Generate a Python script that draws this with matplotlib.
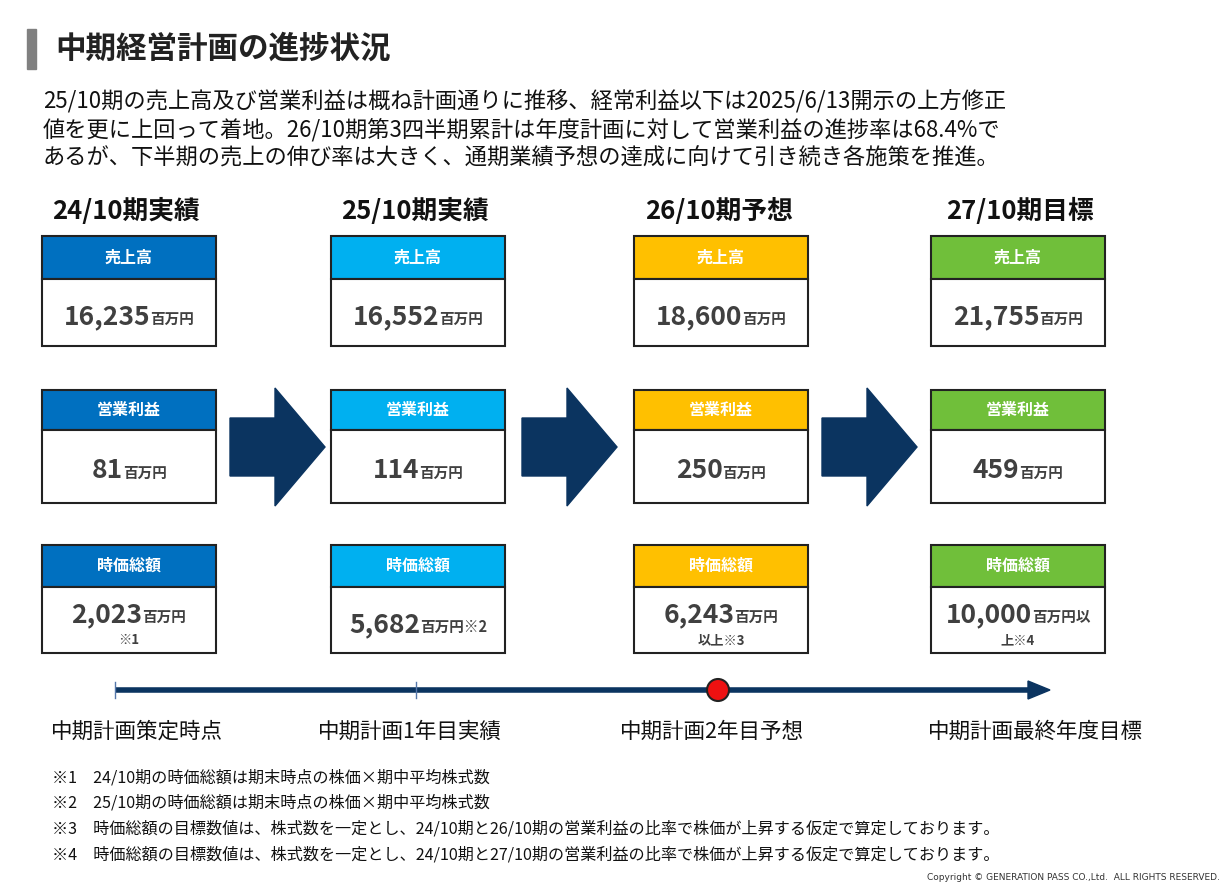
import matplotlib
matplotlib.use("Agg")
import matplotlib.pyplot as plt
from matplotlib.patches import Rectangle, Polygon, Circle

plt.rcParams['font.family'] = ['Noto Sans CJK JP', 'DejaVu Sans']

periods = ["24/10期実績", "25/10期実績", "26/10期予想", "27/10期目標"]
row_titles = ["売上高", "営業利益", "時価総額"]
sales = ["16,235", "16,552", "18,600", "21,755"]
op_profit = ["81", "114", "250", "459"]
mcap = ["2,023", "5,682", "6,243", "10,000"]
mcap_unit = ["百万円", "百万円※2", "百万円", "百万円以"]
mcap_line2 = ["※1", "", "以上※3", "上※4"]
timeline_labels = ["中期計画策定時点", "中期計画1年目実績", "中期計画2年目予想", "中期計画最終年度目標"]
colors = ["#0070C0", "#00B0F0", "#FFC000", "#70BF3A"]
footnotes = ["※1　24/10期の時価総額は期末時点の株価×期中平均株式数",
             "※2　25/10期の時価総額は期末時点の株価×期中平均株式数",
             "※3　時価総額の目標数値は、株式数を一定とし、24/10期と26/10期の営業利益の比率で株価が上昇する仮定で算定しております。",
             "※4　時価総額の目標数値は、株式数を一定とし、24/10期と27/10期の営業利益の比率で株価が上昇する仮定で算定しております。"]

navy = "#0B3460"
fig = plt.figure(figsize=(12.2, 8.83), dpi=100)
ax = fig.add_axes([0, 0, 1, 1])
ax.set_xlim(0, 1220); ax.set_ylim(883, 0); ax.axis("off")
r = fig.canvas.get_renderer()

ax.add_patch(Rectangle((27, 29), 9, 40, color="#808080"))
ax.text(55, 49, "中期経営計画の進捗状況", fontsize=22, fontweight="bold", va="center", color="#222222")
para = ["25/10期の売上高及び営業利益は概ね計画通りに推移、経常利益以下は2025/6/13開示の上方修正",
        "値を更に上回って着地。26/10期第3四半期累計は年度計画に対して営業利益の進捗率は68.4%で",
        "あるが、下半期の売上の伸び率は大きく、通期業績予想の達成に向けて引き続き各施策を推進。"]
for i, s in enumerate(para):
    ax.text(43, 102 + i * 28, s, fontsize=16, va="center", color="#111111")

col_x = [42, 331, 634, 931]
col_w = 174
head_x = [126, 415, 719, 1020]
rows = [(236, 279, 346), (390, 430, 503), (545, 587, 653)]

def value_text(cx, cy, val, unit, big=19, small=10.5):
    t1 = ax.text(0, cy, val, fontsize=big, fontweight="bold", va="baseline", color="#404040")
    t2 = ax.text(0, cy, unit, fontsize=small, fontweight="bold", va="baseline", color="#404040")
    w1 = t1.get_window_extent(r).width
    w2 = t2.get_window_extent(r).width
    x0 = cx - (w1 + w2) / 2
    t1.set_x(x0); t2.set_x(x0 + w1)

for c in range(4):
    ax.text(head_x[c], 211, periods[c], fontsize=18.5, fontweight="bold", ha="center", va="center", color="#111111")
    for ri, (y0, y1, y2) in enumerate(rows):
        ax.add_patch(Rectangle((col_x[c], y0), col_w, y1 - y0, facecolor=colors[c], edgecolor="#222222", lw=1.5))
        ax.add_patch(Rectangle((col_x[c], y1), col_w, y2 - y1, facecolor="white", edgecolor="#222222", lw=1.5))
        cx = col_x[c] + col_w / 2
        ax.text(cx, (y0 + y1) / 2, row_titles[ri], fontsize=11.5, fontweight="bold", ha="center", va="center", color="white")
    cx = col_x[c] + col_w / 2
    value_text(cx, 324, sales[c], "百万円")
    value_text(cx, 478, op_profit[c], "百万円")
    if mcap_line2[c]:
        value_text(cx, 622, mcap[c], mcap_unit[c])
        ax.text(cx, 640, mcap_line2[c], fontsize=9.5, fontweight="bold", ha="center", va="center", color="#404040")
    else:
        value_text(cx, 632, mcap[c], mcap_unit[c])

for x0 in [230, 522, 822]:
    ax.add_patch(Polygon([(x0, 418), (x0 + 45, 418), (x0 + 45, 388), (x0 + 95, 447),
                          (x0 + 45, 506), (x0 + 45, 476), (x0, 476)], closed=True, color=navy))

ax.plot([115, 1030], [690, 690], color=navy, lw=4, solid_capstyle="butt")
ax.add_patch(Polygon([(1028, 681), (1050, 690), (1028, 699)], closed=True, color=navy))
for tx in [115, 416]:
    ax.plot([tx, tx], [682, 698], color="#5577aa", lw=1)
ax.add_patch(Circle((718, 690), 11, facecolor="#EE1111", edgecolor="#222222", lw=1.5, zorder=5))

for tx, s in zip([137, 410, 712, 1035], timeline_labels):
    ax.text(tx, 732, s, fontsize=15.5, ha="center", va="center", color="#111111")

for i, s in enumerate(footnotes):
    ax.text(52, 778 + i * 25.5, s, fontsize=11.6, va="center", color="#111111")

ax.text(1220, 878, "Copyright © GENERATION PASS CO.,Ltd.  ALL RIGHTS RESERVED.", fontsize=6.5,
        ha="right", va="center", color="#333333", family="DejaVu Sans")

fig.savefig("out.png", dpi=100)
